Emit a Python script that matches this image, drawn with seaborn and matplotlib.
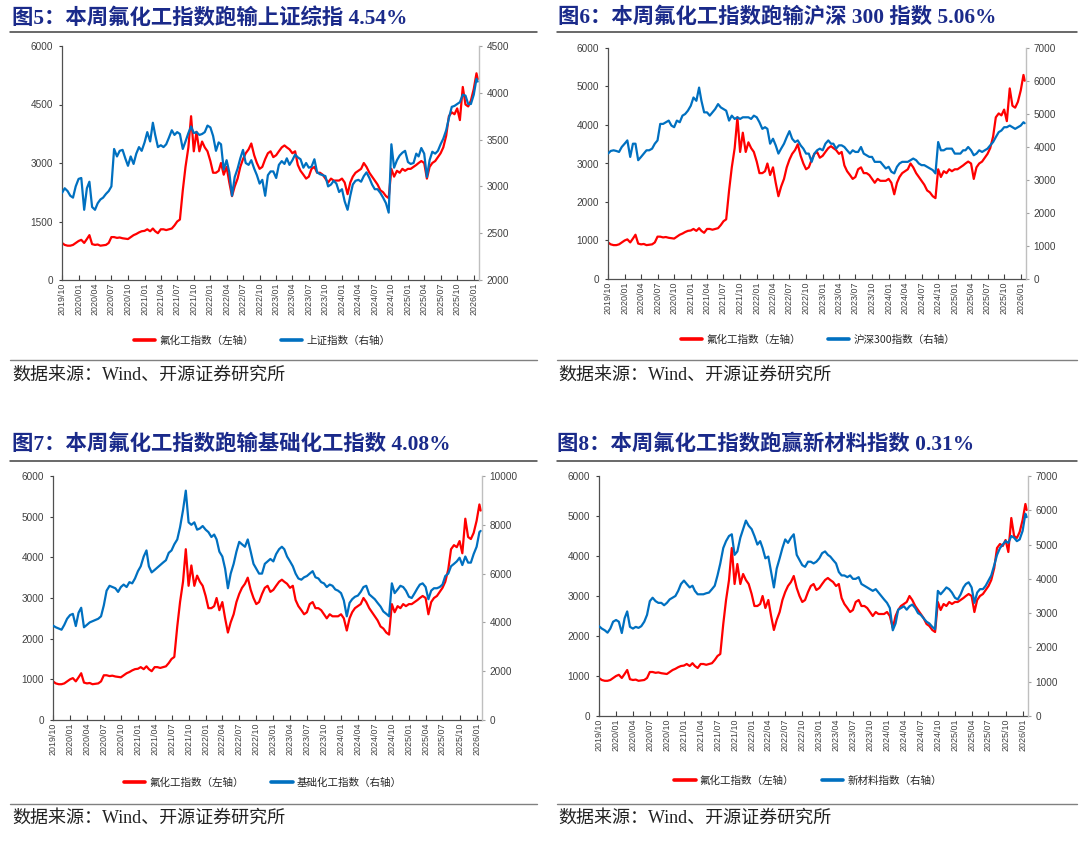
import matplotlib
matplotlib.use("Agg")
import matplotlib.pyplot as plt
import matplotlib.dates as mdates
from matplotlib.lines import Line2D
import pandas as pd
import seaborn as sns

sns.set_theme(style="white")
plt.rcParams["font.family"] = ["Liberation Sans", "Noto Sans CJK SC", "DejaVu Sans"]

# ---------------- data (semi-monthly readings: 1st and 16th of each month) ----------------
MONTHS = pd.date_range("2019-10-01", "2026-01-01", freq="MS")
DATES = []
for m in MONTHS:
    DATES += [m, m + pd.Timedelta(days=15)]
DATES.append(pd.Timestamp("2026-01-23"))

FLUORO = [
    950, 900, 880, 880, 900, 950,
    1000, 1030, 950, 1050, 1150, 920, 900, 910, 880, 890, 900, 950, 1100, 1100, 1080, 1090, 1070, 1060,
    1050, 1100, 1150, 1180, 1220, 1250,
    1260, 1300, 1250, 1320, 1250, 1200, 1300, 1300, 1280, 1300, 1320, 1400, 1500, 1550, 2300, 2900, 3400, 4200,
    3300, 3800, 3300, 3550, 3400, 3300,
    3050, 2750, 2750, 2800, 3000, 2700, 2900, 2500, 2150, 2400, 2600, 2900, 3100, 3250, 3350, 3500, 3200, 3000,
    2850, 2900, 3100, 3250, 3300, 3150,
    3200, 3300, 3400, 3450, 3400, 3350, 3250, 3300, 2950, 2800, 2700, 2600, 2650, 2850, 2900, 2750, 2750, 2700,
    2600, 2500, 2600, 2550, 2550, 2550,
    2600, 2500, 2200, 2500, 2650, 2750, 2800, 2850, 3000, 2900, 2750, 2650, 2550, 2450, 2300, 2250, 2150, 2100,
    2850, 2650, 2800, 2750, 2850, 2800,
    2850, 2850, 2900, 2950, 3000, 3050, 3000, 2600, 2900, 3000, 3050, 3150, 3250, 3400, 3700, 4200, 4300, 4250,
    4400, 4100, 4950, 4500, 4450, 4600,
    4900, 5300, 5150,
]

SSE = [
    2930, 2980, 2950, 2900, 2880, 3000,
    3080, 3090, 2750, 2980, 3050, 2780, 2750, 2820, 2860, 2880, 2920, 2950, 3000, 3400, 3320, 3380, 3390, 3300,
    3220, 3320, 3240, 3350, 3420, 3380,
    3470, 3580, 3480, 3680, 3550, 3420, 3440, 3420, 3450, 3520, 3600, 3550, 3580, 3560, 3400, 3480, 3570, 3640,
    3570, 3580, 3550, 3560, 3580, 3650,
    3630, 3540, 3380, 3470, 3450, 3180, 3280, 3150, 2900, 3100, 3190, 3300, 3390, 3250, 3230, 3280, 3190, 3120,
    3030, 3070, 2900, 3120, 3160, 3160,
    3090, 3230, 3270, 3240, 3300, 3230, 3280, 3340, 3310, 3290, 3200, 3250, 3200, 3210, 3290, 3150, 3130, 3120,
    3110, 3000, 3020, 3060, 3030, 2940,
    2970, 2840, 2750, 2900, 3020, 3060, 3070, 3050, 3110, 3150, 3090, 3020, 2970, 2970, 2930, 2880, 2820, 2720,
    3450, 3200, 3280, 3330, 3360, 3380,
    3260, 3240, 3250, 3350, 3320, 3410, 3350, 3100, 3280, 3370, 3350, 3380, 3450, 3510, 3600, 3730, 3850, 3860,
    3880, 3900, 3980, 3970, 3880, 3880,
    3980, 4150, 4120,
]

CSI300 = [
    3800, 3880, 3900, 3880, 3850, 4000,
    4100, 4200, 3700, 4100, 4100, 3600, 3700, 3800, 3900, 3900, 3950, 4100, 4200, 4700, 4700, 4750, 4800, 4650,
    4600, 4800, 4750, 4950, 5000, 5100,
    5250, 5500, 5400, 5800, 5400, 5050, 5050, 4950, 5050, 5150, 5300, 5200, 5150, 5100, 4800, 4950, 4850, 4900,
    4850, 4900, 4900, 4900, 4850, 4950,
    4900, 4750, 4550, 4600, 4550, 4100, 4250, 4050, 3800, 3950, 4100, 4300, 4480, 4250, 4150, 4200, 4050, 3950,
    3800, 3800, 3550, 3800, 3900, 3950,
    3900, 4100, 4200, 4100, 4100, 3950, 4050, 4050, 4000, 3900, 3800, 3900, 3850, 3850, 4000, 3800, 3750, 3700,
    3700, 3550, 3550, 3550, 3450, 3350,
    3400, 3250, 3200, 3400, 3500, 3550, 3550, 3550, 3600, 3650, 3600, 3500, 3450, 3450, 3400, 3350, 3300, 3200,
    4150, 3900, 3900, 3950, 3950, 3950,
    3800, 3800, 3800, 3900, 3900, 4000, 3900, 3750, 3800, 3900, 3850, 3900, 3950, 4050, 4150, 4300, 4450, 4500,
    4600, 4600, 4650, 4600, 4550, 4600,
    4650, 4750, 4720,
]

BASIC_CHEM = [
    3870, 3800, 3750, 3700, 3900, 4150,
    4300, 4350, 3850, 4400, 4600, 3800, 3900, 4000, 4050, 4100, 4150, 4250, 4700, 5300, 5500, 5450, 5400, 5250,
    5450, 5550, 5450, 5650, 5600, 5800,
    6100, 6300, 6700, 6950, 6300, 6050, 6150, 6250, 6350, 6450, 6550, 6850, 6950, 7200, 7400, 7900, 8600, 9400,
    8100, 8000, 8100, 7800, 7850, 7950,
    7800, 7700, 7500, 7600, 7400, 6900, 6700, 6200, 5400, 6000, 6400, 6900, 7300, 7200, 7100, 7400, 6900, 6400,
    6200, 6000, 6000, 6400, 6500, 6600,
    6500, 6800, 7000, 7100, 7000, 6700, 6500, 6300, 6000, 5800, 5750, 5850, 5900, 6000, 6100, 5850, 5800, 5650,
    5600, 5450, 5550, 5500, 5350, 5300,
    5200, 4900, 4250, 4800, 4950, 5050, 5100, 5250, 5450, 5500, 5150, 5050, 4950, 4800, 4650, 4450, 4350, 4250,
    5600, 5200, 5350, 5500, 5450, 5300,
    5050, 5000, 5200, 5400, 5550, 5600, 5450, 4950, 5300, 5400, 5400, 5450, 5550, 5900, 6000, 6300, 6400, 6500,
    6650, 6350, 6700, 6450, 6450, 6800,
    7100, 7700, 7750,
]

NEW_MATERIAL = [
    2620, 2550, 2500, 2430, 2550, 2750,
    2800, 2750, 2420, 2850, 3050, 2600, 2550, 2600, 2570, 2620, 2750, 2950, 3350, 3450, 3350, 3300, 3300, 3230,
    3300, 3400, 3450, 3500, 3650, 3850,
    3950, 3850, 3750, 3800, 3650, 3550, 3550, 3550, 3580, 3600, 3700, 3800, 4100, 4450, 4900, 5100, 5250, 5300,
    4700, 4800, 5200, 5450, 5700, 5550,
    5450, 5250, 5000, 5100, 4900, 4600, 4650, 4200, 3750, 4300, 4600, 4900, 5150, 5050, 5200, 5300, 4700, 4550,
    4400, 4350, 4500, 4500, 4450, 4500,
    4600, 4750, 4800, 4700, 4650, 4550, 4450, 4200, 4100, 4100, 4050, 4100, 4000, 4000, 4050, 3850, 3800, 3750,
    3700, 3650, 3700, 3600, 3500, 3400,
    3300, 3150, 2500, 2700, 3100, 3150, 3200, 3100, 3200, 3250, 3150, 3000, 2950, 2850, 2750, 2700, 2600, 2530,
    3650, 3550, 3650, 3750, 3700, 3600,
    3450, 3400, 3550, 3750, 3850, 3900, 3750, 3300, 3600, 3700, 3700, 3800, 3950, 4100, 4400, 4700, 4900, 5000,
    5100, 5050, 5250, 5200, 5100, 5150,
    5400, 5900, 5800,
]

LEFT_NAME = "氟化工指数（左轴）"
TITLES = [
    "图5：本周氟化工指数跑输上证综指 4.54%",
    "图6：本周氟化工指数跑输沪深 300 指数 5.06%",
    "图7：本周氟化工指数跑输基础化工指数 4.08%",
    "图8：本周氟化工指数跑赢新材料指数 0.31%",
]
RIGHT_NAMES = ["上证指数（右轴）", "沪深300指数（右轴）", "基础化工指数（右轴）", "新材料指数（右轴）"]
RIGHT_SERIES = [SSE, CSI300, BASIC_CHEM, NEW_MATERIAL]
LEFT_TICKS = [[0, 1500, 3000, 4500, 6000], list(range(0, 6001, 1000)),
              list(range(0, 6001, 1000)), list(range(0, 6001, 1000))]
RIGHT_TICKS = [list(range(2000, 4501, 500)), list(range(0, 7001, 1000)),
               list(range(0, 10001, 2000)), list(range(0, 7001, 1000))]
SOURCE = "数据来源：Wind、开源证券研究所"

for s in [FLUORO] + RIGHT_SERIES:
    assert len(s) == len(DATES), (len(s), len(DATES))

# ---------------- layout ----------------
W, H = 1080, 843
fig = plt.figure(figsize=(W / 100, H / 100), dpi=100)
fx = lambda px: px / W
fy = lambda py: 1 - py / H

RED = "#FF0000"
BLUE = "#0070C0"
NAVY = "#1A2A8A"
TICKC = "#404040"

panels = [
    dict(box=(62, 46, 479, 280), tx=12, ty=18, rule=(10, 537, 32), src=(10, 537, 360, 12, 375), leg=(262, 341)),
    dict(box=(608, 48, 1026, 279), tx=558, ty=18, rule=(557, 1077, 32), src=(557, 1077, 360, 558, 375), leg=(818, 340)),
    dict(box=(53, 476, 482, 720), tx=12, ty=445, rule=(10, 537, 461), src=(10, 537, 804, 12, 818), leg=(263, 783)),
    dict(box=(599, 476, 1028, 716), tx=557, ty=445, rule=(557, 1077, 461), src=(557, 1077, 804, 558, 818), leg=(808, 781)),
]

for i, p in enumerate(panels):
    x0, y0, x1, y1 = p["box"]
    ax = fig.add_axes([fx(x0), fy(y1), (x1 - x0) / W, (y1 - y0) / H])
    ax2 = ax.twinx()
    df = pd.DataFrame({"date": DATES, "left": FLUORO, "right": RIGHT_SERIES[i]})
    sns.lineplot(data=df, x="date", y="left", ax=ax, color=RED, linewidth=1.6, legend=False)
    sns.lineplot(data=df, x="date", y="right", ax=ax2, color=BLUE, linewidth=1.6, legend=False)
    for a in (ax, ax2):
        a.set_xlabel("")
        a.set_ylabel("")
        a.set_facecolor("none")
    ax.set_xlim(pd.Timestamp("2019-10-01"), pd.Timestamp("2026-01-30"))
    lt, rt = LEFT_TICKS[i], RIGHT_TICKS[i]
    ax.set_ylim(lt[0], lt[-1])
    ax.set_yticks(lt)
    ax2.set_ylim(rt[0], rt[-1])
    ax2.set_yticks(rt)
    ax.xaxis.set_major_locator(mdates.MonthLocator(bymonth=[1, 4, 7, 10]))
    ax.xaxis.set_major_formatter(mdates.DateFormatter("%Y/%m"))
    ax.tick_params(axis="x", direction="in", length=3.5, width=0.8, color=TICKC, labelsize=6.4,
                   labelcolor=TICKC, labelrotation=90, pad=2, bottom=True)
    ax.tick_params(axis="y", direction="out", length=2.5, width=0.8, color=TICKC, labelsize=7.2,
                   labelcolor=TICKC, pad=4, left=True)
    ax2.tick_params(axis="y", direction="out", length=2.5, width=0.8, color="#A0A0A0", labelsize=7.2,
                    labelcolor=TICKC, pad=3, right=True)
    for name, sp in ax.spines.items():
        sp.set_visible(name in ("left", "bottom"))
        sp.set_color("#505050")
        sp.set_linewidth(0.9)
    for name, sp in ax2.spines.items():
        sp.set_visible(name == "right")
        sp.set_color("#BFBFBF")
        sp.set_linewidth(1.0)
    ax.grid(False)
    ax2.grid(False)

    # title and rules
    fig.text(fx(p["tx"]), fy(p["ty"]), TITLES[i], ha="left", va="center", fontsize=15.4,
             fontweight="bold", color=NAVY, family=["Liberation Serif", "Noto Sans CJK SC"])
    rx0, rx1, ry = p["rule"]
    fig.add_artist(Line2D([fx(rx0), fx(rx1)], [fy(ry), fy(ry)], transform=fig.transFigure,
                          color="#404040", linewidth=1.1))
    sx0, sx1, sy, stx, sty = p["src"]
    fig.add_artist(Line2D([fx(sx0), fx(sx1)], [fy(sy), fy(sy)], transform=fig.transFigure,
                          color="#808080", linewidth=1.0))
    fig.text(fx(stx), fy(sty), SOURCE, ha="left", va="center", fontsize=13, color="#222222",
             family=["Liberation Serif", "Noto Sans CJK SC"])

    # legend
    handles = [Line2D([0], [0], color=RED, linewidth=2.6), Line2D([0], [0], color=BLUE, linewidth=2.6)]
    lx, ly = p["leg"]
    fig.legend(handles, [LEFT_NAME, RIGHT_NAMES[i]], loc="center", bbox_to_anchor=(fx(lx), fy(ly)),
               ncol=2, frameon=False, handlelength=2.0, handletextpad=0.4,
               columnspacing=2.6, prop={"family": ["Noto Sans CJK SC", "DejaVu Sans"], "size": 7.6})

fig.savefig("out.png", dpi=100, facecolor="white")
